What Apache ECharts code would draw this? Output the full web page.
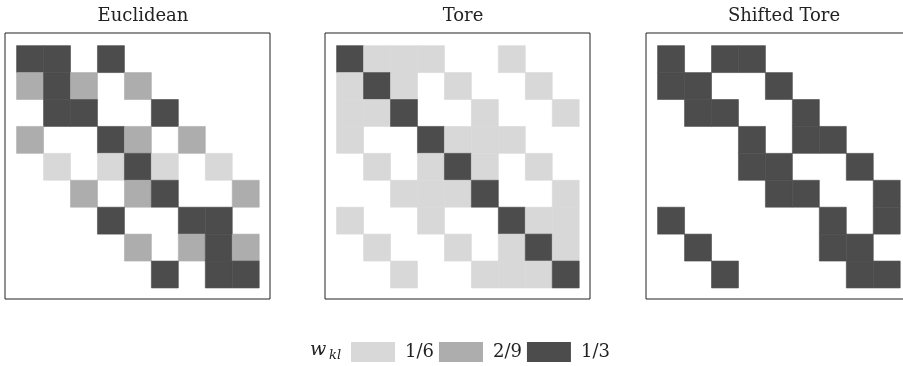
<!DOCTYPE html>
<html>
<head>
<meta charset="utf-8">
<script src="https://cdn.jsdelivr.net/npm/echarts@6/dist/echarts.min.js"></script>
<style>html,body{margin:0;padding:0;background:#fff;overflow:hidden}#c{width:920px;height:366px}</style>
</head>
<body>
<div id="c"></div>
<script>
// 0 = empty, 1 = 1/6, 2 = 2/9, 3 = 1/3  (rows top to bottom)
var panelTitles = ['Euclidean', 'Tore', 'Shifted Tore'];
var levelLabels = ['1/6', '2/9', '1/3'];
var levelColors = ['#d8d8d8', '#adadad', '#4c4c4c'];

var euclidean = [
  [3,3,0,3,0,0,0,0,0],
  [2,3,2,0,2,0,0,0,0],
  [0,3,3,0,0,3,0,0,0],
  [2,0,0,3,2,0,2,0,0],
  [0,1,0,1,3,1,0,1,0],
  [0,0,2,0,2,3,0,0,2],
  [0,0,0,3,0,0,3,3,0],
  [0,0,0,0,2,0,2,3,2],
  [0,0,0,0,0,3,0,3,3]
];
var tore = [
  [3,1,1,1,0,0,1,0,0],
  [1,3,1,0,1,0,0,1,0],
  [1,1,3,0,0,1,0,0,1],
  [1,0,0,3,1,1,1,0,0],
  [0,1,0,1,3,1,0,1,0],
  [0,0,1,1,1,3,0,0,1],
  [1,0,0,1,0,0,3,1,1],
  [0,1,0,0,1,0,1,3,1],
  [0,0,1,0,0,1,1,1,3]
];
var shiftedTore = [
  [3,0,3,3,0,0,0,0,0],
  [3,3,0,0,3,0,0,0,0],
  [0,3,3,0,0,3,0,0,0],
  [0,0,0,3,0,3,3,0,0],
  [0,0,0,3,3,0,0,3,0],
  [0,0,0,0,3,3,0,0,3],
  [3,0,0,0,0,0,3,0,3],
  [0,3,0,0,0,0,3,3,0],
  [0,0,3,0,0,0,0,3,3]
];
var matrices = [euclidean, tore, shiftedTore];

var panelLeft = [5, 325, 646];
var FONT = 'DejaVu Serif';

function toCells(m) {
  var out = [];
  for (var r = 0; r < m.length; r++)
    for (var c = 0; c < m[r].length; c++)
      if (m[r][c] > 0) out.push([c, r, m[r][c]]);
  return out;
}

function renderCell(params, api) {
  var c = api.value(0), r = api.value(1);
  var p0 = api.coord([c, r]);
  var p1 = api.coord([c + 1, r + 1]);
  var col = api.visual('color');
  return {
    type: 'rect',
    shape: { x: p0[0], y: p0[1], width: p1[0] - p0[0], height: p1[1] - p0[1] },
    style: { fill: col, stroke: col, lineWidth: 0.6 }
  };
}

var grids = [], xAxes = [], yAxes = [], series = [], titles = [];
for (var i = 0; i < 3; i++) {
  grids.push({ left: panelLeft[i], top: 33, width: 265, height: 266, show: true,
    borderColor: '#222', borderWidth: 1, backgroundColor: '#fff' });
  xAxes.push({ type: 'value', gridIndex: i, min: -0.43, max: 9.4, show: false });
  yAxes.push({ type: 'value', gridIndex: i, min: -0.47, max: 9.41, inverse: true, show: false });
  series.push({ type: 'custom', xAxisIndex: i, yAxisIndex: i, data: toCells(matrices[i]),
    encode: { x: 0, y: 1 }, renderItem: renderCell, silent: true });
  titles.push({ text: panelTitles[i], left: panelLeft[i] + 133, top: 2, textAlign: 'center',
    textStyle: { fontFamily: FONT, fontWeight: 'normal', fontSize: 18, color: '#222' } });
}
titles.push({ text: 'w', left: 305, top: 336,
  textStyle: { fontFamily: FONT, fontStyle: 'italic', fontWeight: 'normal', fontSize: 19, color: '#222' } });
titles.push({ text: 'kl', left: 324, top: 344,
  textStyle: { fontFamily: FONT, fontStyle: 'italic', fontWeight: 'normal', fontSize: 13, color: '#222' } });

var chart = echarts.init(document.getElementById('c'));
chart.setOption({
  animation: false,
  title: titles,
  grid: grids,
  xAxis: xAxes,
  yAxis: yAxes,
  visualMap: {
    type: 'piecewise', dimension: 2, orient: 'horizontal', left: 336, top: 327,
    itemWidth: 44, itemHeight: 20, itemGap: 5, textGap: 10, itemSymbol: 'rect',
    selectedMode: false, showLabel: true,
    textStyle: { fontFamily: FONT, fontSize: 18, color: '#222' },
    pieces: levelLabels.map(function (l, k) { return { value: k + 1, label: l, color: levelColors[k] }; }),
    seriesIndex: [0, 1, 2]
  },
  series: series
});
</script>
</body>
</html>
